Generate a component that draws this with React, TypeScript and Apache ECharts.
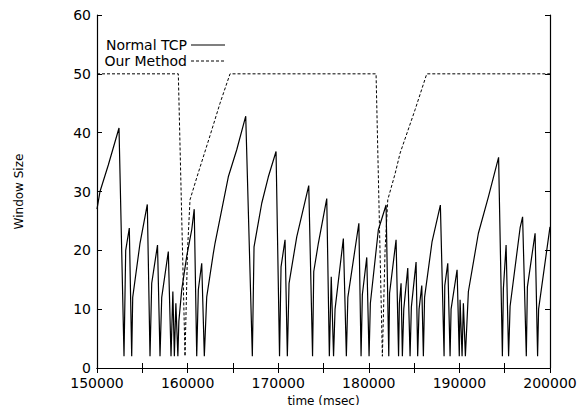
import React, { useEffect, useRef } from "react";
import * as echarts from "echarts";

// Normal TCP congestion window (time in msec, window size)
const tcpTime = [
  150000, 150331, 151248, 152429, 152981, 153168, 153566, 153831, 153941, 154747,
  155553, 155851, 156039, 156679, 156955, 157143, 157872, 158170, 158373, 158539,
  158705, 158926, 159037, 159351, 159903, 160455, 160731, 161007, 161184, 161559,
  161846, 162111, 162840, 163027, 164495, 165423, 166416, 167145, 167333, 168183,
  168912, 169762, 170148, 170314, 170755, 171009, 171197, 172047, 173372, 173792,
  173924, 174432, 175359, 175646, 175856, 176110, 176275, 177192, 177523, 177688,
  178903, 179146, 179289, 179775, 180029, 180172, 181056, 181906, 182204, 182292,
  183010, 183286, 183374, 183562, 183705, 183860, 184301, 184555, 184699, 185218,
  185394, 185549, 185847, 186024, 186156, 186984, 187900, 188309, 188386, 188717,
  188971, 189082, 189744, 189987, 190075, 190296, 190440, 190660, 190992, 192095,
  193200, 194326, 194745, 194856, 195154, 195430, 195595, 196699, 196975, 197384,
  197505, 198355, 198631, 198742, 200000,
];
const tcpWindow = [
  27, 30, 34.5, 40.8, 2, 20, 23.8, 2, 12, 21.2,
  27.8, 2, 14.4, 20.9, 2, 12, 19.8, 2, 13, 2,
  11, 2, 8, 13.3, 19, 23.5, 27, 2, 13.3, 17.8,
  2, 12.1, 19.5, 21.2, 32.5, 37.1, 42.8, 2, 20.6, 28,
  32.5, 36.8, 2, 17.2, 21.8, 2, 14.4, 22.3, 31, 2,
  16.4, 21.2, 28.8, 2, 15.5, 2, 10, 22, 2, 12,
  24.6, 2, 12.5, 18.8, 2, 11, 23.5, 27.7, 2, 12.7,
  21.8, 2, 11, 14.4, 2, 10, 17, 2, 10.4, 18,
  2, 10, 14, 2, 12, 21.5, 27.7, 2, 14, 17.8,
  2, 10, 16.7, 2, 11.6, 2, 11, 2, 13, 22.9,
  29.1, 35.8, 2, 13.5, 20.9, 2, 10.5, 23.8, 25.7, 2,
  13.8, 22.9, 2, 10, 24,
];

// Our Method window
const methodTime = [
  150000, 158975, 159715, 159991, 160267, 161040, 162475, 163579, 164683,
  180802, 181498, 181795, 182094, 182899, 183451, 185107, 186399, 200000,
];
const methodWindow = [
  50, 50, 2, 20, 28.6, 32.5, 39.5, 45, 50,
  50, 2, 20, 28.6, 33, 36.5, 43.9, 50, 50,
];

const yTicks = [0, 10, 20, 30, 40, 50, 60];
const xTicks = [150000, 160000, 170000, 180000, 190000, 200000];
const seriesNames = ["Normal TCP", "Our Method"];

const FONT = "DejaVu Sans";

export default function App() {
  const ref = useRef<HTMLDivElement>(null);

  useEffect(() => {
    if (!ref.current) return;
    const chart = echarts.init(ref.current, null, { renderer: "svg" });

    const tcpData = tcpTime.map((t, i) => [t, tcpWindow[i]]);
    const methodData = methodTime.map((t, i) => [t, methodWindow[i]]);

    const axisLine = { show: true, lineStyle: { color: "#000", width: 1.2 } };
    const xBase = {
      type: "value" as const,
      min: xTicks[0],
      max: xTicks[xTicks.length - 1],
      interval: 10000,
      axisLine,
      axisTick: { show: true, inside: true, length: 5, lineStyle: { color: "#000" } },
      minorTick: { show: true, splitNumber: 2, length: 5, lineStyle: { color: "#000" } },
      splitLine: { show: false },
    };
    const yBase = {
      type: "value" as const,
      min: yTicks[0],
      max: yTicks[yTicks.length - 1],
      interval: 10,
      axisLine,
      axisTick: { show: true, inside: true, length: 5, lineStyle: { color: "#000" } },
      splitLine: { show: false },
    };

    chart.setOption({
      animation: false,
      backgroundColor: "#fff",
      grid: {
        left: 97,
        right: 32,
        top: 15,
        bottom: 37,
        containLabel: false,
        outerBoundsMode: "none",
      },
      xAxis: [
        {
          ...xBase,
          position: "bottom",
          axisLabel: {
            fontSize: 14,
            color: "#000",
            fontFamily: FONT,
            margin: 8,
            formatter: (v: number) => String(v),
          },
          name: "time (msec)",
          nameLocation: "middle",
          nameGap: 21,
          nameTextStyle: { fontSize: 12, lineHeight: 12, color: "#000", fontFamily: FONT },
        },
        { ...xBase, position: "top", axisLabel: { show: false } },
      ],
      yAxis: [
        {
          ...yBase,
          position: "left",
          axisLabel: { fontSize: 14, color: "#000", fontFamily: FONT, margin: 6 },
          name: "Window Size",
          nameLocation: "middle",
          nameRotate: 90,
          nameGap: 72,
          nameTextStyle: { fontSize: 12, color: "#000", fontFamily: FONT },
        },
        { ...yBase, position: "right", axisLabel: { show: false } },
      ],
      series: [
        {
          name: seriesNames[0],
          type: "line",
          data: tcpData,
          showSymbol: false,
          symbol: "none",
          lineStyle: { color: "#000", width: 1.2 },
          z: 3,
        },
        {
          name: seriesNames[1],
          type: "line",
          data: methodData,
          showSymbol: false,
          symbol: "none",
          lineStyle: { color: "#000", width: 1, type: [3, 2] },
          z: 2,
        },
      ],
      graphic: [
        {
          type: "text",
          x: 187,
          y: 45,
          style: {
            text: seriesNames[0],
            fontSize: 14,
            fontFamily: FONT,
            fill: "#000",
            align: "right",
            verticalAlign: "middle",
          },
        },
        {
          type: "line",
          shape: { x1: 191, y1: 45, x2: 225, y2: 45 },
          style: { stroke: "#000", lineWidth: 1.2 },
        },
        {
          type: "text",
          x: 187,
          y: 61,
          style: {
            text: seriesNames[1],
            fontSize: 14,
            fontFamily: FONT,
            fill: "#000",
            align: "right",
            verticalAlign: "middle",
          },
        },
        {
          type: "line",
          shape: { x1: 191, y1: 61, x2: 225, y2: 61 },
          style: { stroke: "#000", lineWidth: 1, lineDash: [3, 2] },
        },
      ],
    });

    return () => chart.dispose();
  }, []);

  return <div ref={ref} style={{ width: 582, height: 405, position: "absolute", left: 0, top: 0 }} />;
}
